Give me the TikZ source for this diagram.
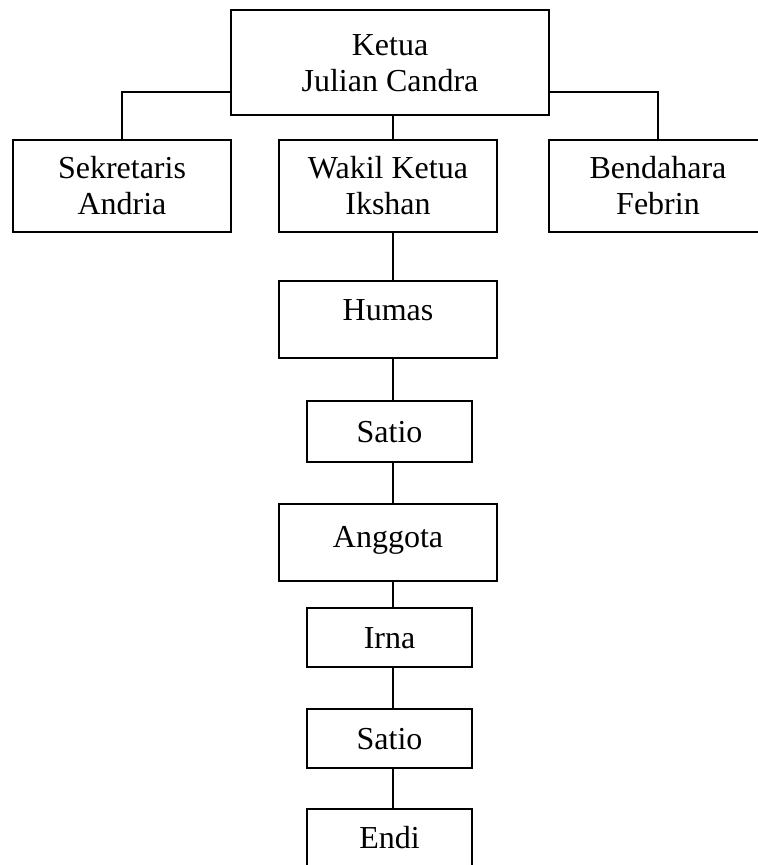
\documentclass[tikz,border=0pt]{standalone}
\usepackage{fontspec}
\setmainfont{Liberation Serif}
\begin{document}
\begin{tikzpicture}[x=0.5pt,y=-0.5pt,
 box/.style={draw, line width=1pt, inner sep=0pt, align=center, font=\fontsize{16}{18}\selectfont},
 wide/.style={box, minimum width=109pt},
 narrow/.style={box, minimum width=82.5pt, minimum height=29.5pt, text height=10.5pt, text depth=0pt},
 link/.style={line width=1pt}]
\useasboundingbox (0,0) rectangle (758,865);
\clip (0,0) rectangle (758,865);
\node[box, minimum width=159pt, minimum height=52.5pt] (ketua) at (390,63) {Ketua\\Julian Candra};
\node[wide, minimum height=46pt] (sek) at (122,186) {Sekretaris\\Andria};
\node[wide, minimum height=46pt] (wakil) at (388,186) {Wakil Ketua\\Ikshan};
\node[wide, minimum height=46pt] (bend) at (658,186) {Bendahara\\Febrin};
\node[wide, minimum height=38.5pt, text height=10.5pt, text depth=9pt] (humas) at (388,319.5) {Humas};
\node[narrow, minimum height=30.5pt] (satio1) at (389.5,431.5) {Satio};
\node[wide, minimum height=38.5pt, text height=10.5pt, text depth=6pt] (anggota) at (388,542.5) {Anggota};
\node[narrow] (irna) at (389.5,637.5) {Irna};
\node[narrow] (satio2) at (389.5,738.5) {Satio};
\node[narrow] (endi) at (389.5,838) {Endi};
\coordinate (spine) at (393,0);
\coordinate (arm) at (0,92);
\draw[link] (ketua.west |- arm) -| (sek.north);
\draw[link] (ketua.east |- arm) -| (bend.north);
\draw[link] (ketua.south -| spine) -- (wakil.north -| spine);
\draw[link] (wakil.south -| spine) -- (humas.north -| spine);
\draw[link] (humas.south -| spine) -- (satio1.north -| spine);
\draw[link] (satio1.south -| spine) -- (anggota.north -| spine);
\draw[link] (anggota.south -| spine) -- (irna.north -| spine);
\draw[link] (irna.south -| spine) -- (satio2.north -| spine);
\draw[link] (satio2.south -| spine) -- (endi.north -| spine);
\end{tikzpicture}
\end{document}
